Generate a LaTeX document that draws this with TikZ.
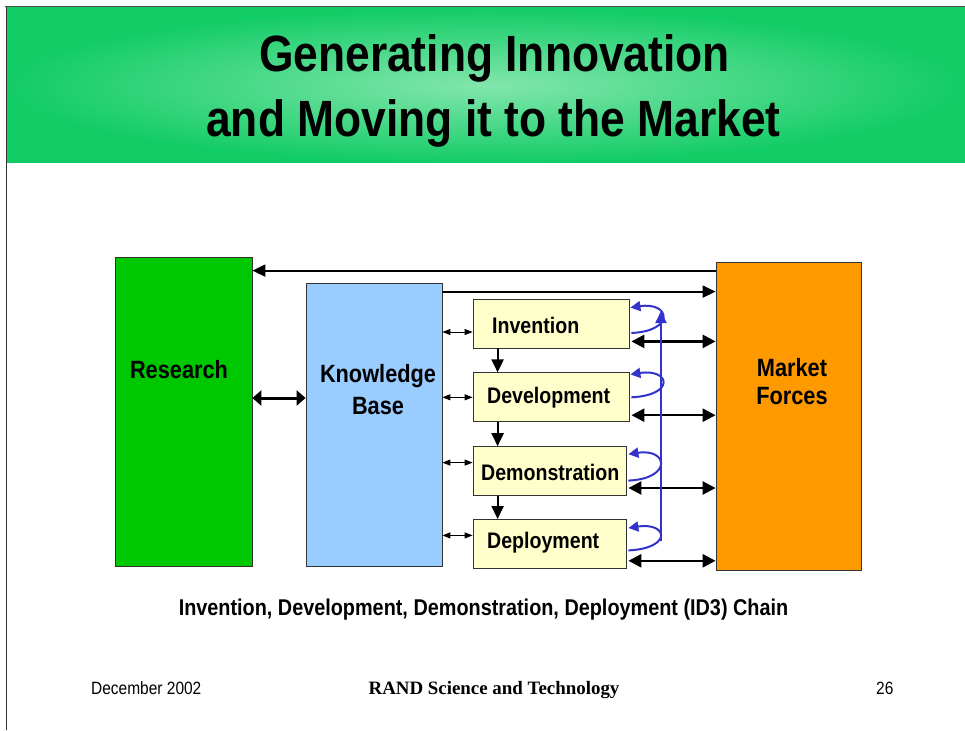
\documentclass[tikz,border=0pt]{standalone}
\usepackage{fontspec}
\setmainfont{Liberation Sans}[FakeStretch=0.87]
\newfontfamily\randfont{Liberation Serif}
\usepackage{tikz}
\usetikzlibrary{shapes,arrows.meta,positioning,shadings}

\definecolor{hdrgreen}{RGB}{18,204,102}
\definecolor{hdrlight}{RGB}{130,230,172}
\definecolor{resgreen}{RGB}{0,200,0}
\definecolor{kbblue}{RGB}{153,204,255}
\definecolor{mktorange}{RGB}{255,153,0}
\definecolor{chainyellow}{RGB}{255,255,204}
\definecolor{loopblue}{RGB}{51,51,204}

\tikzset{
    bigbox/.style={draw=black!80, line width=0.8pt, inner sep=0pt},
    chainbox/.style={draw=black!80, line width=0.8pt, fill=chainyellow,
        minimum width=156pt, minimum height=49pt, inner sep=0pt},
    boxlbl/.style={inner sep=0pt, align=center,
        font=\bfseries\fontsize{25}{30}\selectfont},
    chainlbl/.style={inner sep=0pt, anchor=base west,
        font=\bfseries\fontsize{22.5}{27}\selectfont},
    toparr/.style={line width=2pt, -{Triangle[length=13pt,width=12pt]}},
    bigarr/.style={line width=2.5pt,
        {Triangle[length=13pt,width=13pt]}-{Triangle[length=13pt,width=13pt]}},
    kbarr/.style={line width=3pt,
        {Triangle[length=9pt,width=15pt]}-{Triangle[length=9pt,width=15pt]}},
    smallarr/.style={line width=1pt,
        {Triangle[length=8pt,width=6pt]}-{Triangle[length=8pt,width=6pt]}},
    downarr/.style={line width=2pt, -{Triangle[length=13pt,width=12pt]}},
    fbarr/.style={loopblue, line width=2pt, -{Triangle[length=12pt,width=11pt]}},
    looparr/.style={loopblue, line width=2pt, -{Triangle[length=10pt,width=10pt]}}
}

\begin{document}
\begin{tikzpicture}[x=1pt, y=-1pt]
\useasboundingbox (0,0) rectangle (965,730);
\fill[white] (0,0) rectangle (965,730);

% header band
\shade[inner color=hdrlight, outer color=hdrgreen] (6,8) rectangle (965,163);
\draw[black!70, line width=1pt] (5,7) -- (965,7);
\draw[black!80, line width=1pt] (6,7) -- (6,730);
\node[inner sep=0pt, anchor=base, font=\bfseries\fontsize{51}{60}\selectfont]
    (title1) at (494.5,72) {Generating Innovation};
\node[inner sep=0pt, anchor=base, font=\bfseries\fontsize{51}{60}\selectfont]
    (title2) at (493.5,137) {and Moving it to the Market};

% main boxes
\node[bigbox, fill=resgreen, minimum width=137pt, minimum height=309pt]
    (res) at (183.5,411.5) {};
\node[bigbox, fill=kbblue, minimum width=136pt, minimum height=283pt]
    (kb) at (374,424.5) {};
\node[bigbox, fill=mktorange, minimum width=145pt, minimum height=308pt]
    (mkt) at (788.5,416) {};

\node[boxlbl, anchor=base] (reslbl) at (179,378) {Research};
\node[boxlbl, font=\bfseries\fontsize{25}{32}\selectfont] (kblbl) at (378,390) {Knowledge\\Base};
\node[boxlbl, font=\bfseries\fontsize{25}{28}\selectfont] (mktlbl) at (792,382) {Market\\Forces};

% ID3 chain
\node[chainbox] (inv) at (551,323.5) {};
\node[chainbox, anchor=north west] (dev) at ([yshift=-24pt]inv.south west) {};
\node[chainbox, minimum width=153pt, anchor=north west] (dem) at ([yshift=-24pt]dev.south west) {};
\node[chainbox, minimum width=153pt, anchor=north west] (dep) at ([yshift=-23pt]dem.south west) {};

\node[chainlbl] (invlbl) at (492,333) {Invention};
\node[chainlbl] (devlbl) at (487,403) {Development};
\node[chainlbl] (demlbl) at (481,480) {Demonstration};
\node[chainlbl] (deplbl) at (487,548) {Deployment};

% top connectors
\draw[toparr] ([yshift=-9pt]mkt.north west) -- ([yshift=-9pt]mkt.north west -| res.east);
\draw[toparr] ([yshift=-9pt]kb.north east) -- ([yshift=-9pt]kb.north east -| mkt.west);
\draw[kbarr] ([yshift=26.5pt]kb.west) -- ([yshift=26.5pt]kb.west -| res.east);

% knowledge base <-> chain
\draw[smallarr] ([yshift=-8.5pt]inv.west -| kb.east) -- ([yshift=-8.5pt]inv.west);
\draw[smallarr] (dev.west -| kb.east) -- (dev.west);
\draw[smallarr] ([yshift=8.5pt]dem.west -| kb.east) -- ([yshift=8.5pt]dem.west);
\draw[smallarr] ([yshift=8.5pt]dep.west -| kb.east) -- ([yshift=8.5pt]dep.west);

% down the chain
\draw[downarr] ([xshift=25pt]inv.south west) -- ([xshift=25pt]dev.north west);
\draw[downarr] ([xshift=25pt]dev.south west) -- ([xshift=25pt]dem.north west);
\draw[downarr] ([xshift=25pt]dem.south west) -- ([xshift=25pt]dep.north west);

% chain <-> market
\draw[bigarr] ([xshift=2pt,yshift=7pt]inv.south east) -- ([yshift=7pt]inv.south east -| mkt.west);
\draw[bigarr] ([xshift=2pt,yshift=7pt]dev.south east) -- ([yshift=7pt]dev.south east -| mkt.west);
\draw[bigarr] ([xshift=2pt,yshift=8pt]dem.south east) -- ([yshift=8pt]dem.south east -| mkt.west);
\draw[bigarr] ([xshift=2pt,yshift=8pt]dep.south east) -- ([yshift=8pt]dep.south east -| mkt.west);

% feedback loops
\coordinate (fbbot) at (661,541);
\coordinate (fbtop) at (661,311);
\draw[fbarr] (fbbot) -- (fbtop);
\draw[looparr] ([xshift=2pt,yshift=-9.5pt]inv.east) .. controls +(44,-2) and +(40,-6) .. ([xshift=1pt,yshift=-9pt]inv.north east);
\draw[looparr] ([xshift=2pt]dev.east) .. controls +(44,-2) and +(40,-6) .. ([xshift=1pt,yshift=-2pt]dev.north east);
\draw[looparr] ([xshift=2pt,yshift=-9.5pt]dem.east) .. controls +(44,-2) and +(40,-6) .. ([xshift=2pt,yshift=-8pt]dem.north east);
\draw[looparr] ([xshift=2pt,yshift=-6.5pt]dep.east) .. controls +(44,-2) and +(40,-6) .. ([xshift=2pt,yshift=-9pt]dep.north east);

% caption and footer
\node[inner sep=0pt, anchor=base, font=\bfseries\fontsize{22.8}{27}\selectfont]
    (caption) at (483.5,615) {Invention, Development, Demonstration, Deployment (ID3) Chain};
\node[inner sep=0pt, anchor=base west, font=\fontsize{17.8}{21}\selectfont]
    (date) at (91,694) {December 2002};
\node[inner sep=0pt, anchor=base, font=\randfont\bfseries\fontsize{18.9}{22}\selectfont]
    (rand) at (494,694) {RAND Science and Technology};
\node[inner sep=0pt, anchor=base west, font=\fontsize{17.8}{21}\selectfont]
    (page) at (876,694) {26};
\end{tikzpicture}
\end{document}
